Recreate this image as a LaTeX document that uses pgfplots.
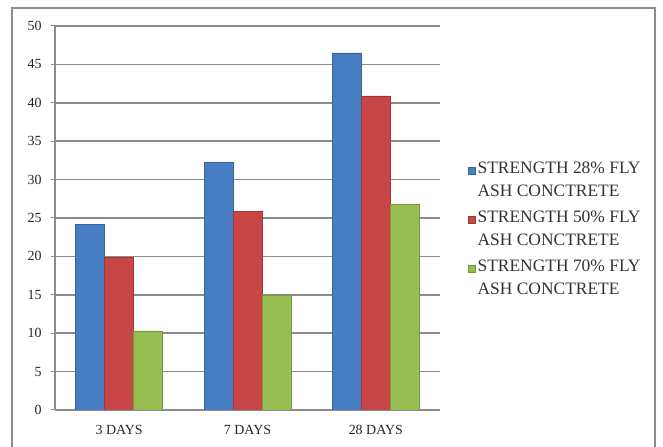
\documentclass[border=0pt]{standalone}
\usepackage{fontspec}
\setmainfont{Liberation Serif}
\usepackage{pgfplots}
\pgfplotsset{compat=1.18}
\definecolor{cblue}{RGB}{70,125,195}
\definecolor{cred}{RGB}{200,70,70}
\definecolor{cgreen}{RGB}{150,190,80}
\definecolor{lgray}{RGB}{140,140,140}
\begin{document}
\begin{tikzpicture}[x=1bp,y=1bp]
\clip (-55,-37) rectangle (608,410);
\draw[lgray, line width=1.4bp] (-43,-60) rectangle (600,402);
\begin{axis}[
  at={(0,0)}, anchor=south west,
  scale only axis, width=385bp, height=384bp,
  xmin=-0.5, xmax=2.5, ymin=0, ymax=50,
  enlargelimits=false,
  ybar=0pt, bar width=29bp,
  xtick={0,1,2}, xticklabels={3 DAYS,7 DAYS,28 DAYS},
  ytick={0,5,...,50},
  axis x line*=bottom, axis y line*=left,
  axis line style={lgray, line width=1.2bp},
  x axis line style={-}, y axis line style={-},
  ymajorgrids, grid style={lgray, line width=1.5bp},
  major x tick style={draw=none},
  major y tick style={lgray, line width=1bp},
  tick align=outside, major tick length=4bp,
  ticklabel style={font=\fontsize{14}{14}\selectfont, text=black!85},
  /pgf/number format/assume math mode=true,
  yticklabel style={xshift=-6bp},
  xticklabel style={yshift=-8bp},
  legend style={at={(rel axis cs:1.065,0.657)}, anchor=north west, draw=none, fill=none,
    font=\fontsize{17.5}{23}\selectfont, text=black!80, row sep=9bp,
    cells={align=left, anchor=west}},
  legend cell align=left,
  legend image code/.code={\fill[#1] (0bp,6bp) rectangle (7bp,13bp);},
]
\addplot[fill=cblue, draw=cblue!80!black] coordinates {(0,24.2) (1,32.3) (2,46.5)};
\addplot[fill=cred, draw=cred!80!black] coordinates {(0,19.9) (1,25.9) (2,40.9)};
\addplot[fill=cgreen, draw=cgreen!80!black] coordinates {(0,10.3) (1,15.0) (2,26.8)};
\legend{{STRENGTH 28\% FLY\\ASH CONCTRETE},{STRENGTH 50\% FLY\\ASH CONCTRETE},{STRENGTH 70\% FLY\\ASH CONCTRETE}}
\end{axis}
\end{tikzpicture}
\end{document}
